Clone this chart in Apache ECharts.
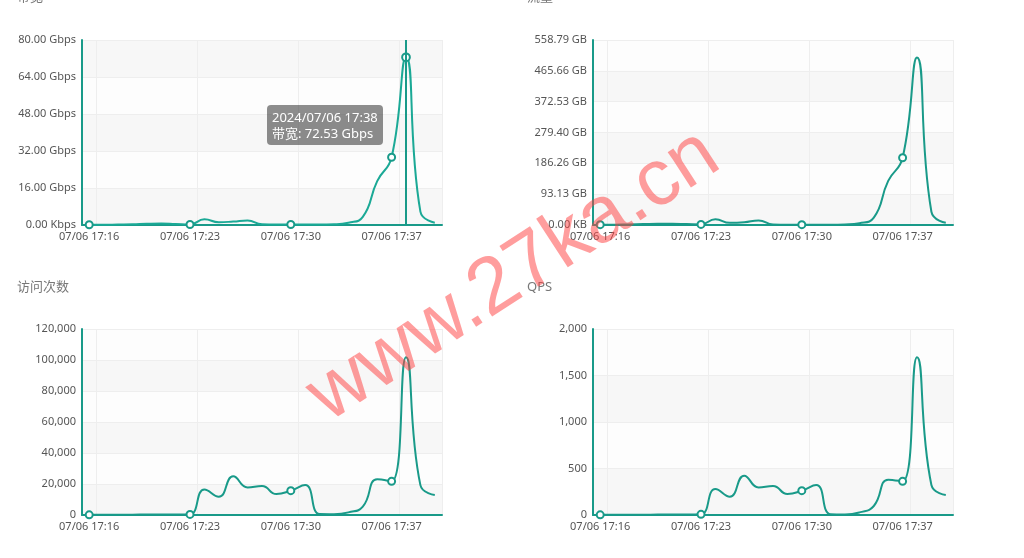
<!DOCTYPE html>
<html>
<head>
<meta charset="utf-8">
<script src="https://cdn.jsdelivr.net/npm/echarts@6/dist/echarts.min.js"></script>
<style>
html,body{margin:0;padding:0;background:#fff;}
#c{width:1024px;height:558px;}
</style>
</head>
<body>
<div id="c"></div>
<script>
var categories = ['2024/07/06 17:16','2024/07/06 17:17','2024/07/06 17:18','2024/07/06 17:19','2024/07/06 17:20','2024/07/06 17:21','2024/07/06 17:22','2024/07/06 17:23','2024/07/06 17:24','2024/07/06 17:25','2024/07/06 17:26','2024/07/06 17:27','2024/07/06 17:28','2024/07/06 17:29','2024/07/06 17:30','2024/07/06 17:31','2024/07/06 17:32','2024/07/06 17:33','2024/07/06 17:34','2024/07/06 17:35','2024/07/06 17:36','2024/07/06 17:37','2024/07/06 17:38','2024/07/06 17:39','2024/07/06 17:40'];
var titles = ['带宽','流量','访问次数','QPS'];
// bandwidth in Gbps
var bandwidth = [0.1,0.1,0.2,0.3,0.5,0.6,0.4,0.2,2.5,1.2,1.5,2.0,0.3,0.2,0.2,0.2,0.2,0.3,1.0,3.5,19,29.3,72.53,5.8,1.0];
// traffic in units of 1e9 bytes
var traffic = [1,1,2,3,4,4,3,2,18.6,7,9,15,2,1,1,1,1,2,6,24,143,218,543,43,7];
// visits count
var visits = [100,100,200,200,300,300,300,400,16500,11800,25000,17800,18700,13500,15700,19300,600,500,1700,5400,23000,21700,101700,19300,12900];
// qps
var qps = [2,2,3,3,5,5,5,7,280,197,423,297,312,226,262,323,8,5,28,97,380,362,1695,323,215];
var yMax = [80, 600, 120000, 2000];
var yInterval = [16, 100, 20000, 500];
var watermark = 'www.27ka.cn';

var TEAL = '#199a89';
var FONT = "'Noto Sans','Noto Sans CJK SC',sans-serif";
var fmt = [
  function(v){ return v === 0 ? '0.00 Kbps' : v.toFixed(2) + ' Gbps'; },
  function(v){ return v === 0 ? '0.00 KB' : (v * 1e9 / 1073741824).toFixed(2) + ' GB'; },
  function(v){ return v.toLocaleString('en-US'); },
  function(v){ return v.toLocaleString('en-US'); }
];
var seriesData = [bandwidth, traffic, visits, qps];
var grids = [
  {left:82, top:40, width:360, height:185},
  {left:593, top:40, width:360, height:185},
  {left:82, top:329, width:360, height:186},
  {left:593, top:329, width:360, height:186}
];
var titlePos = [[12,-14],[522,-14],[12,276],[522,276]];

var option = {
  animation:false,
  textStyle:{fontFamily:FONT},
  title: titles.map(function(t,i){
    return {text:t, left:titlePos[i][0], top:titlePos[i][1],
      textStyle:{fontSize:13, fontWeight:'normal', color:'#777', fontFamily:FONT}};
  }),
  grid: grids,
  tooltip:{
    trigger:'axis',
    alwaysShowContent:true,
    transitionDuration:0,
    position:[267,105],
    backgroundColor:'rgba(50,50,50,0.55)',
    borderWidth:0,
    borderColor:'transparent',
    borderRadius:4,
    padding:[4,5],
    extraCssText:'box-shadow:none;',
    textStyle:{color:'#fff', fontSize:13, lineHeight:16, fontFamily:FONT},
    axisPointer:{type:'line', lineStyle:{color:TEAL, width:2, type:'solid'}},
    formatter:function(p){
      return p[0].name + '<br/>' + titles[0] + ': ' + p[0].value.toFixed(2) + ' Gbps';
    }
  },
  xAxis: grids.map(function(g,i){
    return {
      type:'category', gridIndex:i, data:categories, boundaryGap:true,
      axisLine:{show:true, lineStyle:{color:TEAL, width:2}},
      axisTick:{show:false},
      axisLabel:{interval:6, color:'#555', fontSize:11, margin:6,
        formatter:function(v){ return v.slice(5); }},
      splitLine:{show:true, interval:function(idx){ return idx % 7 === 1; },
        lineStyle:{color:'#eeeeee', width:1}}
    };
  }),
  yAxis: grids.map(function(g,i){
    return {
      type:'value', gridIndex:i, min:0, max:yMax[i], interval:yInterval[i],
      axisLine:{show:true, lineStyle:{color:TEAL, width:2}},
      axisTick:{show:false},
      axisLabel:{color:'#555', fontSize:11, margin:6, formatter:fmt[i]},
      splitLine:{show:true, lineStyle:{color:'#eeeeee', width:1}},
      splitArea:{show:true, areaStyle:{color:['#f7f7f7','#fdfdfd']}}
    };
  }),
  series: seriesData.map(function(d,i){
    return {
      type:'line', name:titles[i], xAxisIndex:i, yAxisIndex:i, data:d,
      smooth:true, showAllSymbol:false, symbol:'emptyCircle', symbolSize:7,
      lineStyle:{color:TEAL, width:2},
      itemStyle:{color:TEAL, borderWidth:2}
    };
  }),
  graphic:[{
    type:'text', x:514, y:276, rotation:33*Math.PI/180, z:100,
    style:{text:watermark, fill:'rgba(255,60,60,0.5)', font:"80px 'Liberation Sans', Arial, sans-serif",
      align:'center', verticalAlign:'middle'}
  }]
};
var chart = echarts.init(document.getElementById('c'), null, {renderer:'canvas'});
chart.setOption(option);
chart.dispatchAction({type:'showTip', seriesIndex:0, dataIndex:22});
</script>
</body>
</html>
